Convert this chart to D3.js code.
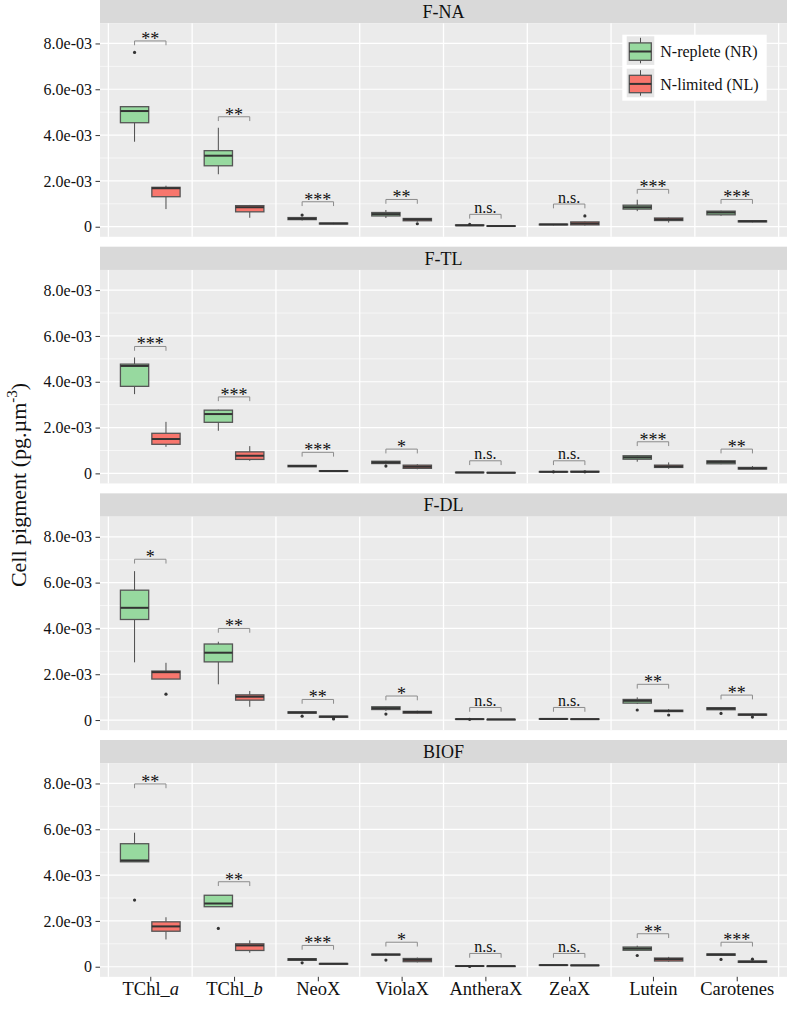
<!DOCTYPE html>
<html>
<head>
<meta charset="utf-8">
<script src="https://cdn.jsdelivr.net/npm/d3@7"></script>
<style>
  body { margin: 0; background: #fff; }
  svg text { font-family: "Liberation Serif", "Times New Roman", serif; }
</style>
</head>
<body>
<svg width="800" height="1012"></svg>
<script>
// pigments on x, one facet per culture mode; values in units of 1e-3 pg.µm-3
const categories = ['TChl_a', 'TChl_b', 'NeoX', 'ViolaX', 'AntheraX', 'ZeaX', 'Lutein', 'Carotenes'];
const facets = ['F-NA', 'F-TL', 'F-DL', 'BIOF'];
const groups = ['N-replete (NR)', 'N-limited (NL)'];
const colors = ['#97d99f', '#f8766d'];
const unit = 1e-3;

// box stats per category: [lower whisker, q1, median, q3, upper whisker]
const naReplete = [[3.71, 4.54, 5.05, 5.24, 5.26], [2.29, 2.66, 3.10, 3.32, 4.32], [0.27, 0.31, 0.35, 0.40, 0.42], [0.38, 0.47, 0.55, 0.62, 0.73],
  [0.03, 0.05, 0.06, 0.08, 0.10], [0.06, 0.08, 0.10, 0.11, 0.12], [0.68, 0.77, 0.85, 0.94, 1.18], [0.48, 0.52, 0.62, 0.68, 0.70]];
const naLimited = [[0.77, 1.31, 1.68, 1.72, 1.79], [0.39, 0.65, 0.85, 0.92, 0.95], [0.11, 0.12, 0.14, 0.16, 0.17], [0.22, 0.26, 0.32, 0.36, 0.38],
  [0.01, 0.02, 0.03, 0.04, 0.05], [0.05, 0.08, 0.14, 0.21, 0.23], [0.18, 0.27, 0.32, 0.38, 0.40], [0.19, 0.21, 0.24, 0.26, 0.27]];
const tlReplete = [[3.46, 3.80, 4.69, 4.77, 5.06], [1.86, 2.23, 2.59, 2.76, 2.78], [0.28, 0.29, 0.32, 0.35, 0.36], [0.38, 0.43, 0.48, 0.53, 0.55],
  [0.02, 0.03, 0.04, 0.05, 0.06], [0.05, 0.06, 0.07, 0.08, 0.09], [0.51, 0.62, 0.70, 0.77, 0.80], [0.40, 0.42, 0.50, 0.55, 0.58]];
const tlLimited = [[1.16, 1.27, 1.50, 1.75, 2.25], [0.55, 0.61, 0.77, 0.94, 1.19], [0.08, 0.09, 0.10, 0.12, 0.13], [0.18, 0.22, 0.29, 0.36, 0.40],
  [0.01, 0.02, 0.03, 0.04, 0.05], [0.05, 0.06, 0.07, 0.09, 0.10], [0.20, 0.26, 0.30, 0.36, 0.48], [0.17, 0.19, 0.22, 0.26, 0.32]];
const dlReplete = [[2.52, 4.39, 4.90, 5.67, 6.50], [1.56, 2.54, 2.94, 3.32, 3.42], [0.29, 0.30, 0.33, 0.36, 0.37], [0.40, 0.46, 0.52, 0.58, 0.60],
  [0.02, 0.03, 0.04, 0.05, 0.05], [0.03, 0.04, 0.05, 0.06, 0.06], [0.70, 0.74, 0.84, 0.90, 0.99], [0.42, 0.45, 0.50, 0.54, 0.57]];
const dlLimited = [[1.79, 1.79, 2.09, 2.14, 2.50], [0.58, 0.87, 1.02, 1.10, 1.27], [0.10, 0.12, 0.15, 0.17, 0.18], [0.27, 0.30, 0.35, 0.38, 0.41],
  [0.01, 0.02, 0.03, 0.03, 0.04], [0.02, 0.03, 0.04, 0.05, 0.05], [0.34, 0.37, 0.40, 0.43, 0.48], [0.20, 0.21, 0.24, 0.26, 0.28]];
const biofReplete = [[4.58, 4.58, 4.64, 5.37, 5.85], [2.62, 2.62, 2.76, 3.12, 3.12], [0.27, 0.28, 0.32, 0.35, 0.36], [0.50, 0.51, 0.53, 0.55, 0.58],
  [0.02, 0.03, 0.03, 0.04, 0.05], [0.05, 0.06, 0.07, 0.08, 0.08], [0.70, 0.72, 0.79, 0.86, 0.92], [0.49, 0.50, 0.53, 0.56, 0.58]];
const biofLimited = [[1.19, 1.55, 1.76, 1.96, 2.16], [0.61, 0.71, 0.93, 1.00, 1.15], [0.10, 0.11, 0.13, 0.14, 0.15], [0.19, 0.22, 0.30, 0.36, 0.40],
  [0.01, 0.02, 0.03, 0.03, 0.04], [0.04, 0.05, 0.06, 0.07, 0.07], [0.22, 0.25, 0.33, 0.38, 0.43], [0.17, 0.19, 0.22, 0.25, 0.27]];

// outliers: [facet, group, category, value]
const outliers = [
  [0, 0, 0, 7.61], [0, 0, 2, 0.51], [0, 0, 4, 0.10], [0, 1, 3, 0.13], [0, 1, 5, 0.47],
  [1, 0, 3, 0.32], [1, 0, 5, 0.07], [1, 1, 5, 0.07],
  [2, 0, 2, 0.17], [2, 0, 3, 0.26], [2, 0, 4, 0.03], [2, 0, 6, 0.44], [2, 0, 7, 0.29],
  [2, 1, 0, 1.13], [2, 1, 2, 0.05], [2, 1, 2, 0.09], [2, 1, 6, 0.22], [2, 1, 7, 0.13],
  [3, 0, 0, 2.91], [3, 0, 1, 1.67], [3, 0, 2, 0.17], [3, 0, 3, 0.29], [3, 0, 4, 0.01], [3, 0, 6, 0.49], [3, 0, 7, 0.32],
  [3, 1, 7, 0.33]
];

// significance brackets (height) and labels
const naSig = [8.11, 4.80, 1.09, 1.19, 0.54, 0.99, 1.63, 1.19];
const tlSig = [5.54, 3.34, 0.92, 1.06, 0.55, 0.55, 1.38, 1.06];
const dlSig = [7.02, 4.00, 0.90, 1.05, 0.55, 0.55, 1.56, 1.09];
const biofSig = [7.98, 3.71, 0.93, 1.07, 0.58, 0.58, 1.44, 1.07];
const naLabels = ['**', '**', '***', '**', 'n.s.', 'n.s.', '***', '***'];
const tlLabels = ['***', '***', '***', '*', 'n.s.', 'n.s.', '***', '**'];
const dlLabels = ['*', '**', '**', '*', 'n.s.', 'n.s.', '**', '**'];
const biofLabels = ['**', '**', '***', '*', 'n.s.', 'n.s.', '**', '***'];

const yTicks = [0, 2, 4, 6, 8];
const yMinor = [1, 3, 5, 7];

const boxes = [[naReplete, naLimited], [tlReplete, tlLimited], [dlReplete, dlLimited], [biofReplete, biofLimited]];
const sigs = [naSig, tlSig, dlSig, biofSig];
const sigLabels = [naLabels, tlLabels, dlLabels, biofLabels];

const fontName = 'Liberation Serif';
const ink = '#111';
const left = 100;
const plotW = 687;
const stride = 246.67;
const stripH = 23.3;
const plotH = 213.5;

const svg = d3.select('svg');

const x = d3.scalePoint().domain(categories).range([0, plotW]).padding(0.6);
const step = x.step();
const y = d3.scaleLinear().domain([-0.44 * unit, 8.88 * unit]).range([plotH, 0]);

const fmt = v => v === 0 ? '0' : d3.format('.1e')(v).replace(/e-(\d)$/, 'e-0$1');

facets.forEach(function (name, fi) {
  const panel = svg.append('g')
    .attr('transform', 'translate(' + left + ',' + (fi * stride) + ')');

  panel.append('rect')
    .attr('width', plotW).attr('height', stripH)
    .attr('fill', '#d9d9d9');
  panel.append('text')
    .attr('x', plotW / 2).attr('y', 18)
    .attr('text-anchor', 'middle')
    .attr('font-size', 18).attr('fill', ink)
    .text(name);

  const g = panel.append('g').attr('transform', 'translate(0,' + stripH + ')');

  g.append('rect').attr('width', plotW).attr('height', plotH).attr('fill', '#ebebeb');

  g.selectAll('.minor').data(yMinor).enter().append('line')
    .attr('x1', 0).attr('x2', plotW)
    .attr('y1', d => y(d * unit)).attr('y2', d => y(d * unit))
    .attr('stroke', '#fff').attr('stroke-width', 0.6);
  g.selectAll('.major').data(yTicks).enter().append('line')
    .attr('x1', 0).attr('x2', plotW)
    .attr('y1', d => y(d * unit)).attr('y2', d => y(d * unit))
    .attr('stroke', '#fff').attr('stroke-width', 1.2);
  // separators between pigments
  g.selectAll('.sep').data(d3.range(categories.length + 1)).enter().append('line')
    .attr('x1', i => x(categories[0]) + (i - 0.5) * step)
    .attr('x2', i => x(categories[0]) + (i - 0.5) * step)
    .attr('y1', 0).attr('y2', plotH)
    .attr('stroke', '#fff').attr('stroke-width', 1.3);

  // y axis
  const yAxis = g.append('g')
    .call(d3.axisLeft(y).tickValues(yTicks.map(d => d * unit)).tickFormat(fmt).tickSize(4.5).tickPadding(3.5));
  yAxis.select('.domain').remove();
  yAxis.selectAll('line').attr('stroke', '#333');
  yAxis.selectAll('text').attr('font-size', 16).attr('fill', ink);

  // boxes
  const bw = 0.3375 * step;
  boxes[fi].forEach(function (stats, gi) {
    const off = (gi === 0 ? -1 : 1) * 0.1875 * step;
    const bx = g.append('g');
    stats.forEach(function (s, ci) {
      const cx = x(categories[ci]) + off;
      bx.append('line')
        .attr('x1', cx).attr('x2', cx)
        .attr('y1', y(s[0] * unit)).attr('y2', y(s[1] * unit))
        .attr('stroke', '#4d4d4d').attr('stroke-width', 1);
      bx.append('line')
        .attr('x1', cx).attr('x2', cx)
        .attr('y1', y(s[3] * unit)).attr('y2', y(s[4] * unit))
        .attr('stroke', '#4d4d4d').attr('stroke-width', 1);
      bx.append('rect')
        .attr('x', cx - bw / 2).attr('width', bw)
        .attr('y', y(s[3] * unit)).attr('height', Math.max(y(s[1] * unit) - y(s[3] * unit), 0.5))
        .attr('fill', colors[gi]).attr('stroke', '#555').attr('stroke-width', 1.3);
      bx.append('line')
        .attr('x1', cx - bw / 2).attr('x2', cx + bw / 2)
        .attr('y1', y(s[2] * unit)).attr('y2', y(s[2] * unit))
        .attr('stroke', '#333').attr('stroke-width', 2);
    });
  });

  g.selectAll('.out').data(outliers.filter(o => o[0] === fi)).enter().append('circle')
    .attr('cx', o => x(categories[o[2]]) + (o[1] === 0 ? -1 : 1) * 0.1875 * step)
    .attr('cy', o => y(o[3] * unit))
    .attr('r', 1.6).attr('fill', '#333');

  // significance brackets
  sigs[fi].forEach(function (h, ci) {
    const x0 = x(categories[ci]) - 0.1875 * step;
    const x1 = x(categories[ci]) + 0.1875 * step;
    const yy = y(h * unit);
    g.append('path')
      .attr('d', 'M' + x0 + ',' + (yy + 4.3) + 'V' + yy + 'H' + x1 + 'V' + (yy + 4.3))
      .attr('fill', 'none').attr('stroke', '#8c8c8c').attr('stroke-width', 1);
    const lab = sigLabels[fi][ci];
    g.append('text')
      .attr('x', (x0 + x1) / 2)
      .attr('y', lab === 'n.s.' ? yy - 1.5 : yy + 4)
      .attr('text-anchor', 'middle')
      .attr('font-size', lab === 'n.s.' ? 16 : 18)
      .attr('fill', ink)
      .text(lab);
  });

  // x axis only under the last facet
  if (fi === facets.length - 1) {
    const xAxis = g.append('g')
      .attr('transform', 'translate(0,' + plotH + ')')
      .call(d3.axisBottom(x).tickSize(4.5).tickPadding(1));
    xAxis.select('.domain').remove();
    xAxis.selectAll('line').attr('stroke', '#333');
    xAxis.selectAll('text')
      .attr('font-size', 18.5).attr('fill', ink)
      .each(function (d) {
        const t = d3.select(this);
        const parts = d.split('_');
        if (parts.length > 1) {
          t.text(null);
          t.append('tspan').text(parts[0] + '_');
          t.append('tspan').attr('font-style', 'italic').text(parts[1]);
        }
      });
  }

  // legend inside the first facet
  if (fi === 0) {
    const lg = svg.append('g').attr('transform', 'translate(622.3,34.7)');
    lg.append('rect').attr('width', 144.4).attr('height', 66).attr('fill', '#fff');
    groups.forEach(function (label, gi) {
      const ky = 1.6 + gi * 32.4;
      const k = lg.append('g').attr('transform', 'translate(4.4,' + ky + ')');
      k.append('rect').attr('width', 27.6).attr('height', 28.6).attr('fill', '#e6e6e6');
      k.append('line').attr('x1', 13.8).attr('x2', 13.8).attr('y1', 1.5).attr('y2', 27)
        .attr('stroke', '#4d4d4d').attr('stroke-width', 1);
      k.append('rect').attr('x', 2.6).attr('y', 6.6).attr('width', 22).attr('height', 17.4)
        .attr('fill', colors[gi]).attr('stroke', '#555').attr('stroke-width', 1.3);
      k.append('line').attr('x1', 2.6).attr('x2', 24.6).attr('y1', 15.2).attr('y2', 15.2)
        .attr('stroke', '#333').attr('stroke-width', 2);
      lg.append('text')
        .attr('x', 38).attr('y', ky + 21)
        .attr('font-size', 16).attr('fill', ink)
        .text(label);
    });
  }
});

// y axis title
const title = svg.append('text')
  .attr('transform', 'translate(26,485) rotate(-90)')
  .attr('text-anchor', 'middle')
  .attr('font-size', 22).attr('fill', ink);
title.append('tspan').text('Cell pigment (pg.µm');
title.append('tspan').attr('font-size', 15).attr('dy', -9).text('-3');
title.append('tspan').attr('dy', 9).text(')');

// every text element gets the serif face explicitly
svg.selectAll('text').attr('font-family', fontName);
</script>
</body>
</html>
